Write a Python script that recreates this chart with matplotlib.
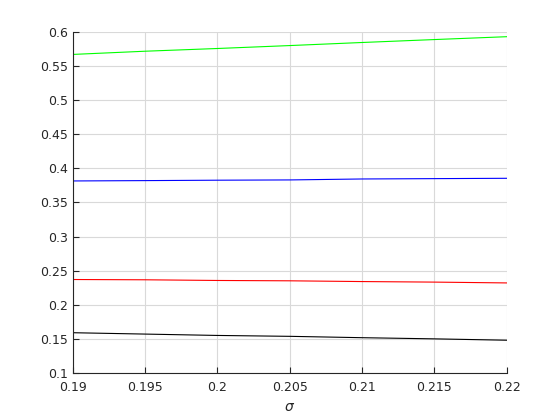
import matplotlib
matplotlib.use("Agg")
import matplotlib.pyplot as plt
import numpy as np

sigma = [0.19, 0.195, 0.2, 0.205, 0.21, 0.215, 0.22]
green = [0.567, 0.5717, 0.5757, 0.580, 0.5845, 0.5888, 0.593]
blue = [0.3815, 0.382, 0.3826, 0.383, 0.3844, 0.3849, 0.3854]
red = [0.237, 0.2366, 0.2356, 0.2351, 0.234, 0.2332, 0.232]
black = [0.159, 0.157, 0.155, 0.1537, 0.1517, 0.150, 0.148]

xticks = [0.19, 0.195, 0.2, 0.205, 0.21, 0.215, 0.22]
xticklabels = ["0.19", "0.195", "0.2", "0.205", "0.21", "0.215", "0.22"]
yticks = [0.1, 0.15, 0.2, 0.25, 0.3, 0.35, 0.4, 0.45, 0.5, 0.55, 0.6]
yticklabels = ["0.1", "0.15", "0.2", "0.25", "0.3", "0.35", "0.4", "0.45", "0.5", "0.55", "0.6"]

fig = plt.figure(figsize=(5.6, 4.2), dpi=100)
ax = fig.add_axes([0.13, 0.112, 0.775, 0.812])
tc = (0.15, 0.15, 0.15)
ax.plot(sigma, green, color=(0, 1, 0), lw=0.8)
ax.plot(sigma, blue, color=(0, 0, 1), lw=0.8)
ax.plot(sigma, red, color=(1, 0, 0), lw=0.8)
ax.plot(sigma, black, color=(0, 0, 0), lw=0.8)

ax.set_xlim(0.19, 0.22)
ax.set_ylim(0.1, 0.6)
ax.set_xticks(xticks)
ax.set_xticklabels(xticklabels)
ax.set_yticks(yticks)
ax.set_yticklabels(yticklabels)
ax.grid(True, color=(0.85, 0.85, 0.85), lw=0.8)
ax.set_axisbelow(True)
for s in ["top", "right"]:
    ax.spines[s].set_visible(False)
for s in ["left", "bottom"]:
    ax.spines[s].set_color(tc)
    ax.spines[s].set_linewidth(0.8)
ax.tick_params(direction="in", length=4, width=0.8, colors=tc, labelsize=9, labelcolor=tc)
ax.tick_params(axis="x", pad=6)
ax.set_xlabel(r"$\sigma$", color=tc, fontsize=10, labelpad=4)
fig.savefig("out.png", dpi=100)
